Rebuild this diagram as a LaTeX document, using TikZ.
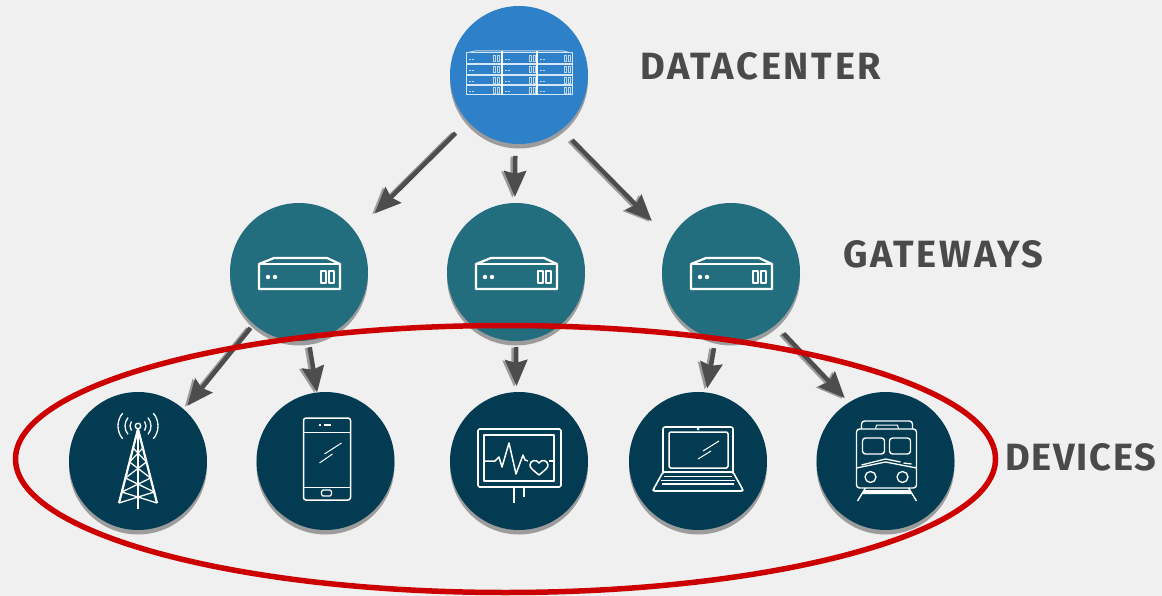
\documentclass[tikz,border=0pt]{standalone}
\usepackage{fontspec}
\newfontfamily\tierfont{Fira Sans}
\usetikzlibrary{shapes.geometric,arrows.meta,shadows}
\definecolor{page_gray}{HTML}{F0F0F0}
\definecolor{dc_blue}{HTML}{2E80C8}
\definecolor{gw_teal}{HTML}{236E7E}
\definecolor{dev_navy}{HTML}{023B52}
\definecolor{rim_gray}{HTML}{9C9C9C}
\definecolor{arrow_gray}{HTML}{4D4D4D}
\definecolor{arrow_soft}{HTML}{9A9A9A}
\definecolor{ring_red}{HTML}{CC0000}
\definecolor{label_gray}{HTML}{4A4A4A}
% one connector, its soft copy first
\newcommand{\linkpath}[4]{
  \path [line_soft, shorten <=#3pt, shorten >=#4pt] (#1) -- (#2);
  \path [line, shorten <=#3pt, shorten >=#4pt] (#1) -- (#2);
}

\begin{document}
\begin{tikzpicture}[x=1pt,y=-1pt,
    block_round/.style ={circle, draw=none, inner sep=0pt, outer sep=0pt,
      minimum size=138pt, drop shadow={shadow xshift=0pt, shadow yshift=-4.5pt,
      fill=rim_gray, opacity=1}},
    block_dc/.style ={block_round, fill=dc_blue},
    block_gw/.style ={block_round, fill=gw_teal},
    block_dev/.style ={block_round, fill=dev_navy},
    block_label/.style ={anchor=base west, inner sep=0pt, text=label_gray,
      font=\tierfont\bfseries\fontsize{38pt}{38pt}\selectfont},
    icon/.style ={draw=white, line width=2.2pt, line join=round, fill=none},
    icon_thin/.style ={draw=white, line width=1pt, line join=round, fill=none},
    line/.style ={draw=arrow_gray, line width=4.5pt,
      -{Stealth[length=26pt,width=22pt,inset=3pt]}},
    line_soft/.style ={line, draw=arrow_soft,
      transform canvas={xshift=-2.5pt,yshift=-0.7pt}},
    ring/.style ={ellipse, draw=ring_red, line width=5.5pt, fill=none, inner sep=0pt,
      minimum width=980pt, minimum height=267pt},
    server_icon/.pic={
      \draw[icon_thin, draw=white!80!dc_blue] (-53,-22) rectangle (53,20);
      \foreach \y in {-11,0,10} \draw[icon_thin, draw=white!80!dc_blue, line width=1.3pt] (-53,\y) -- (53,\y);
      \foreach \x in {-17,18} \draw[icon_thin, line width=1.3pt] (\x,-24) -- (\x,20);
      \draw[icon_thin, draw=white!70!dc_blue] (-53,-22) -- (-44,-24) -- (44,-24) -- (53,-22);
      \foreach \x in {-53,-17,18} \foreach \y in {-22,-11,0,10} {
        \draw[icon_thin, draw=white!70!dc_blue, line width=.7pt] (\x+3,\y+6) -- +(2,0) (\x+6,\y+6) -- +(1.5,0);
        \draw[icon_thin, draw=white!70!dc_blue, line width=.7pt] (\x+27,\y+2.5) rectangle +(2.5,6) (\x+31,\y+2.5) rectangle +(2.5,6);
      }
    },
    gateway_icon/.pic={
      \draw[icon] (-40,-8) -- (-25,-14) -- (28,-14) -- (41,-8) -- (41,17) -- (-40,17) -- cycle;
      \draw[icon] (-40,-8) -- (41,-8);
      \fill[white] (-31,5) circle (2.2) (-24,5) circle (2.2);
      \draw[icon, line width=1.4pt] (22,-1) rectangle (27,11) (30,-1) rectangle (35,11);
    },
    tower_icon/.pic={
      \draw[icon_thin, line width=1.4pt] (0,-35) circle (2.8);
      \draw[icon] (-19,42) -- (0,-32) -- (19,42);
      \draw[icon] (0,-32) -- (0,48);
      \foreach \a/\b in {-13/1,1/17,17/31,31/42} {
        \draw[icon_thin, line width=1.3pt] ({-19*(\a+32)/74},\a) -- ({19*(\b+32)/74},\b);
        \draw[icon_thin, line width=1.3pt] ({19*(\a+32)/74},\a) -- ({-19*(\b+32)/74},\b);
      }
      \foreach \r/\s in {8/35,13/40,20/40} {
        \draw[icon_thin, line width=1.3pt] (0,-35) ++(180-\s:\r) arc (180-\s:180+\s:\r);
        \draw[icon_thin, line width=1.3pt] (0,-35) ++(-\s:\r) arc (-\s:\s:\r);
      }
    },
    phone_icon/.pic={
      \draw[icon, line width=1.5pt, rounded corners=2.5pt] (-22,-43) rectangle (25,39);
      \draw[icon_thin] (-22,-29) -- (25,-29) (-22,26) -- (25,26);
      \draw[icon_thin, line width=1.3pt] (-2,-36) -- (5,-36) (-7,-36) -- (-5,-36);
      \draw[icon_thin, line width=1.3pt, rounded corners=1.5pt] (-4,29) rectangle (6,35);
      \draw[icon_thin] (-1,-7) -- (16,-18) (-6,2) -- (7,-7);
    },
    monitor_icon/.pic={
      \draw[icon, line width=1.6pt, rounded corners=1.5pt] (-41,-32) rectangle (42,26);
      \draw[icon, line width=1.6pt] (-35,-26) rectangle (35,20);
      \draw[icon, line width=1.5pt] (-5,26) -- (-5,42) (5,26) -- (5,36);
      \draw[icon, line width=1.5pt] (-35,0) -- (-24,0) -- (-20,-4) -- (-17,6) -- (-10,-18) -- (-3,13) -- (4,-6) -- (6,-1) -- (9,0);
      \draw[icon, line width=1.5pt] (30,0) -- (35,0);
      \draw[icon, line width=1.5pt] (20,14) .. controls (14,9) and (11,7) .. (11,4)
        .. controls (11,-1) and (18,-2) .. (20,2) .. controls (22,-2) and (29,-1) .. (29,4)
        .. controls (29,7) and (26,9) .. (20,14);
    },
    laptop_icon/.pic={
      \draw[icon, line width=1.6pt, rounded corners=2pt] (-35,11) -- (-35,-34) -- (35,-34) -- (35,11);
      \draw[icon, line width=1.5pt, rounded corners=1.5pt] (-29,-29) rectangle (30,7);
      \fill[white] (0,-32) circle (1.5);
      \draw[icon, line width=1.6pt, rounded corners=1.5pt] (-35,11) -- (-45,29) -- (-44,30) -- (44,30) -- (45,29) -- (35,11) -- cycle;
      \draw[icon_thin] (-34,15) -- (34,15) (-37,19) -- (37,19);
      \draw[icon_thin, line width=1.4pt] (-36,23) -- (36,23);
      \draw[icon_thin] (5,-10) -- (21,-20) (0,-2) -- (13,-10);
    },
    train_icon/.pic={
      \draw[icon, line width=1.4pt, rounded corners=3pt] (-29,27) -- (-29,-32) -- (31,-32) -- (31,27) -- cycle;
      \draw[icon, line width=1.4pt, rounded corners=3pt] (-24,-32) -- (-24,-40) -- (27,-40) -- (27,-32);
      \draw[icon_thin] (-10,-32) -- (-9,-36) -- (12,-36) -- (13,-32);
      \draw[icon, line width=1.4pt, rounded corners=3pt] (-23,-23) rectangle (-1,-7) (4,-23) rectangle (25,-7);
      \draw[icon_thin, line width=1.3pt] (-29,7) -- (0,1) -- (31,7) (-24,4) -- (0,-2) -- (15,1) (18,2) -- (26,3);
      \draw[icon_thin, line width=1.3pt] (-15,16) circle (5.5) (17,16) circle (5.5);
      \draw[icon, line width=1.4pt] (-20,27) -- (-28,40) (23,27) -- (31,40);
      \fill[white] (-21,29) -- (24,29) -- (26,33) -- (-23,33) -- cycle;
    }]
    % page and its margins
    \path[use as bounding box, fill=page_gray] (0,0) rectangle (1162,596);
    % datacenter - row 1
    \node [block_dc] (datacenter) at (519,75) {};
    \pic at (datacenter.center) {server_icon};
    % gateways - row 2
    \node [block_gw] (gateway1) at (299,272) {};
    \node [block_gw] (gateway2) at (516,272) {};
    \node [block_gw] (gateway3) at (731,272) {};
    \foreach \n in {gateway1,gateway2,gateway3} \pic at (\n.center) {gateway_icon};
    % devices - row 3
    \node [block_dev] (tower) at (138,461) {};
    \node [block_dev] (phone) at (325.5,461) {};
    \node [block_dev] (monitor) at (519,461) {};
    \node [block_dev] (laptop) at (698,461) {};
    \node [block_dev] (train) at (885.5,461) {};
    \pic at (tower.center) {tower_icon};
    \pic at (phone.center) {phone_icon};
    \pic at (monitor.center) {monitor_icon};
    \pic at (laptop.center) {laptop_icon};
    \pic at (train.center) {train_icon};
    % labels on the right
    \node [block_label] (label_dc) at (640,80) {\addfontfeature{LetterSpace=7.2}DATACENTER};
    \node [block_label] (label_gw) at (843,267) {\addfontfeature{LetterSpace=7}GATEWAYS};
    \node [block_label] (label_dev) at (1005,470) {\addfontfeature{LetterSpace=4.6}DEVICES};
    % paths to the gateways
    \linkpath{datacenter.222}{gateway1.35}{17}{27}
    \linkpath{datacenter.-93}{gateway2.91}{12}{6}
    \linkpath{datacenter.-52}{gateway3.152.6}{15}{26}
    % paths to the devices
    \linkpath{gateway1.-131}{tower.48}{5}{5}
    \linkpath{gateway1.-82.5}{phone.97.4}{7}{0}
    \linkpath{gateway2.-90}{monitor.92}{6}{6}
    \linkpath{gateway3.-103.4}{laptop.83}{9}{4}
    \linkpath{gateway3.-50.7}{train.122.5}{12}{6}
    % ring round the devices
    \node [ring] (device_ring) at (505.5,459) {};
  \end{tikzpicture}
\end{document}
